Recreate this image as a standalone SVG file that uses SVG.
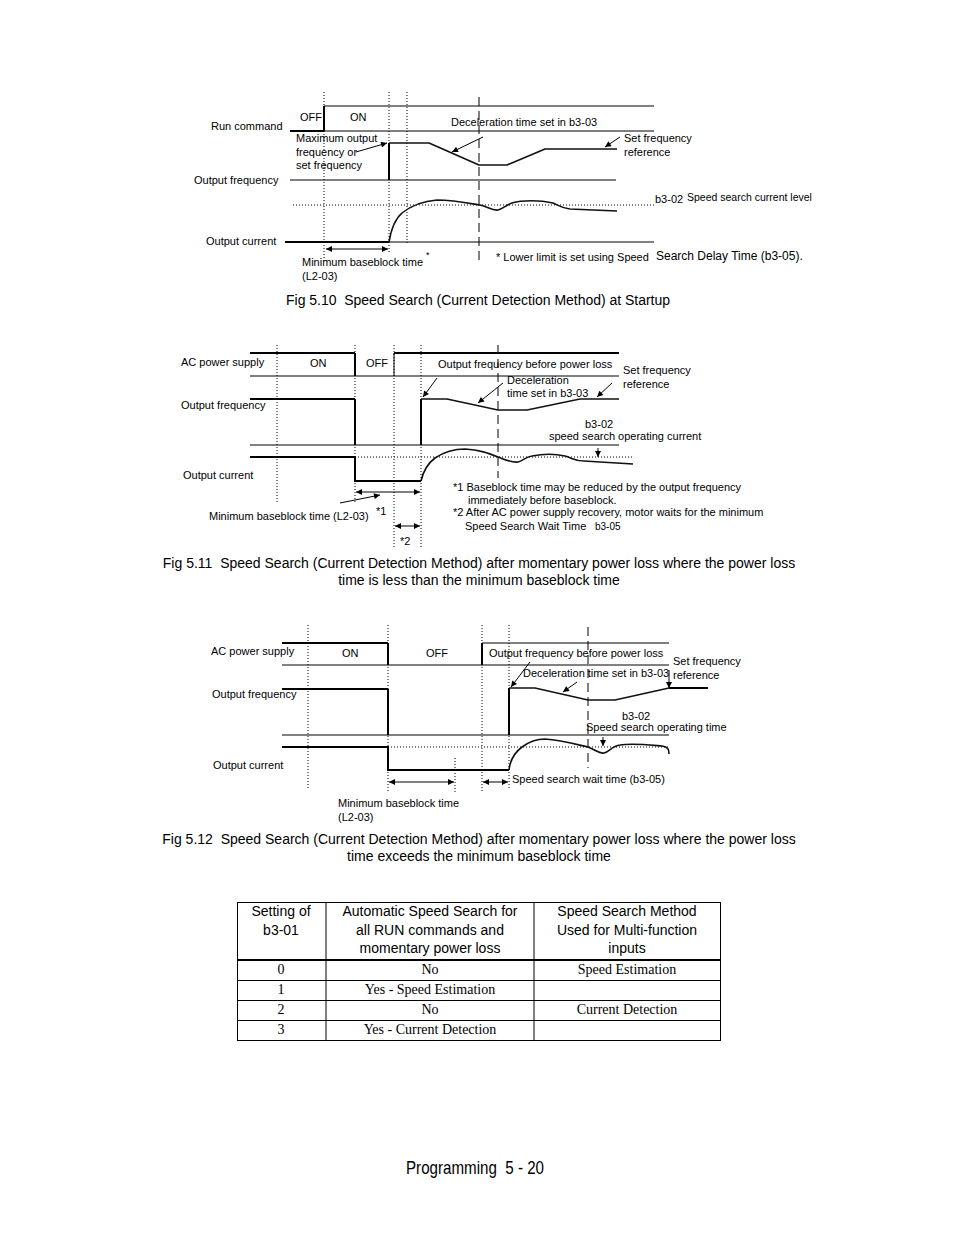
<svg xmlns="http://www.w3.org/2000/svg" width="954" height="1235" viewBox="0 0 954 1235">
<style>
text{font-family:"Liberation Sans",Arial,sans-serif;fill:#000}
.l{font-size:11px}
.s{font-size:10.5px}
.cap{font-size:14px;white-space:pre}
.th{font-size:14px}
.tb{font-size:14px;font-family:"Liberation Serif","Times New Roman",serif}
.thin{stroke:#000;stroke-width:1;fill:none}
.thk{stroke:#000;stroke-width:2;fill:none}
.sig{stroke:#111;stroke-width:1.6;fill:none;stroke-linejoin:round}
.dot{stroke:#000;stroke-width:1;stroke-dasharray:1 2;fill:none}
.dash{stroke:#000;stroke-width:1;stroke-dasharray:9 5;fill:none}
.arr{stroke:#000;stroke-width:1;fill:none;marker-end:url(#ah)}
.darr{stroke:#000;stroke-width:1;fill:none;marker-end:url(#ah);marker-start:url(#ah)}
</style>
<defs>
<marker id="ah" viewBox="0 0 10 10" refX="10" refY="5" markerUnits="userSpaceOnUse" markerWidth="8" markerHeight="6" orient="auto-start-reverse">
<path d="M0,0 L10,5 L0,10 z" fill="#000"/>
</marker>
</defs>
<rect width="954" height="1235" fill="#fff"/>

<!-- Fig 5.10 -->
<g id="fig510">
<g id="fig510-grid">
<line class="dot" x1="324" y1="92" x2="324" y2="262"/>
<line class="dot" x1="389" y1="92" x2="389" y2="253"/>
<line class="dot" x1="407" y1="92" x2="407" y2="245"/>
<line class="dash" x1="479" y1="97" x2="479" y2="263"/>
<line class="dot" x1="293" y1="205" x2="654" y2="205"/>
</g>
<g id="fig510-run">
<line class="thk" x1="290" y1="131" x2="324" y2="131"/>
<line class="thin" x1="324" y1="131" x2="654" y2="131"/>
<line class="thk" x1="324" y1="131" x2="324" y2="106"/>
<line class="thin" x1="324" y1="106" x2="654" y2="106"/>
</g>
<g id="fig510-freq">
<line class="thin" x1="290" y1="180" x2="616" y2="180"/>
<line class="thk" x1="389" y1="180" x2="389" y2="143"/>
<path class="sig" d="M389,143 L429,143 L479,165 L507,165 L545,149 L617,149"/>
</g>
<g id="fig510-cur">
<line class="thk" x1="285" y1="242" x2="389" y2="242"/>
<line class="thin" x1="389" y1="242" x2="654" y2="242"/>
<path class="sig" d="M389,242 C391,230 395,219 402,213 C412,205 424,201 437,200 C452,200 468,203 480,205 C488,207 493,211 498,210 C503,209 506,205 512,203 C522,200 540,200 553,203 C558,205 561,208 570,209 L617,211"/>
</g>
<g id="fig510-arrows">
<line class="darr" x1="326" y1="249" x2="388" y2="249"/>
<line class="arr" x1="356" y1="152" x2="387" y2="143"/>
<line class="arr" x1="483" y1="137" x2="452" y2="152"/>
<line class="arr" x1="620" y1="137" x2="605" y2="147"/>
</g>
<g id="fig510-labels">
<text class="l" x="211" y="130">Run command</text>
<text class="l" x="300" y="121">OFF</text>
<text class="l" x="350" y="121">ON</text>
<text class="l" x="451" y="126">Deceleration time set in b3-03</text>
<text class="l" x="296" y="142">Maximum output</text>
<text class="l" x="296" y="156">frequency or</text>
<text class="l" x="296" y="169">set frequency</text>
<text class="l" x="624" y="142">Set frequency</text>
<text class="l" x="624" y="156">reference</text>
<text class="l" x="194" y="184">Output frequency</text>
<text class="l" x="655" y="203">b3-02</text>
<text class="s" x="687" y="201">Speed search current level</text>
<text class="l" x="206" y="245">Output current</text>
<text class="l" x="302" y="266">Minimum baseblock time</text>
<text class="l" x="302" y="280">(L2-03)</text>
<text style="font-size:9px" x="426" y="258">*</text>
<text class="l" x="496" y="261">* Lower limit is set using Speed</text>
<text style="font-size:12px" x="656" y="260">Search Delay Time (b3-05).</text>
<text class="cap" xml:space="preserve" x="286" y="305" textLength="384">Fig 5.10  Speed Search (Current Detection Method) at Startup</text>
</g>
</g>

<!-- Fig 5.11 -->
<g id="fig511">
<g id="fig511-grid">
<line class="dot" x1="277" y1="345" x2="277" y2="503"/>
<line class="dot" x1="355" y1="345" x2="355" y2="503"/>
<line class="dot" x1="394" y1="345" x2="394" y2="547"/>
<line class="dot" x1="421" y1="345" x2="421" y2="547"/>
<line class="dash" x1="498" y1="345" x2="498" y2="478"/>
<line class="dot" x1="355" y1="457" x2="633" y2="457"/>
</g>
<g id="fig511-ac">
<line class="thk" x1="250" y1="353" x2="355" y2="353"/>
<line class="thk" x1="355" y1="353" x2="355" y2="376"/>
<line class="thin" x1="250" y1="376" x2="619" y2="376"/>
<line class="thin" x1="394" y1="376" x2="394" y2="353"/>
<line class="thk" x1="394" y1="353" x2="619" y2="353"/>
</g>
<g id="fig511-freq">
<line class="thk" x1="250" y1="399" x2="355" y2="399"/>
<line class="thk" x1="355" y1="399" x2="355" y2="445"/>
<line class="thin" x1="250" y1="445" x2="619" y2="445"/>
<line class="thk" x1="421" y1="445" x2="421" y2="399"/>
<path class="sig" d="M421,399 L447,399 L498,410 L527,410 L580,399 L619,399"/>
</g>
<g id="fig511-cur">
<path class="thk" d="M250,457 L355,457 L355,481 L421,481"/>
<path class="sig" d="M421,481 C423,472 427,464 435,458 C444,452 455,449 465,449 C480,450 488,453 498,457 C506,460 512,463 518,462 C523,461 525,457 532,456 C542,454 556,454 565,456 C572,458 575,461 584,461 L633,464"/>
</g>
<g id="fig511-arrows">
<line class="darr" x1="356" y1="492" x2="420" y2="492"/>
<line class="darr" x1="395" y1="526" x2="420" y2="526"/>
<line class="arr" x1="340" y1="503" x2="380" y2="495"/>
<line class="arr" x1="437" y1="378" x2="423" y2="397"/>
<line class="arr" x1="503" y1="383" x2="478" y2="403"/>
<line class="arr" x1="612" y1="383" x2="597" y2="397"/>
<line class="arr" x1="598" y1="448" x2="598" y2="457"/>
</g>
<g id="fig511-labels">
<text class="l" x="181" y="366">AC power supply</text>
<text class="l" x="310" y="367">ON</text>
<text class="l" x="366" y="367">OFF</text>
<text class="l" x="438" y="368">Output frequency before power loss</text>
<text class="l" x="623" y="374">Set frequency</text>
<text class="l" x="623" y="388">reference</text>
<text class="l" x="507" y="384">Deceleration</text>
<text class="l" x="507" y="397">time set in b3-03</text>
<text class="l" x="181" y="409">Output frequency</text>
<text class="l" x="585" y="428">b3-02</text>
<text class="l" x="549" y="440">speed search operating current</text>
<text class="l" x="183" y="479">Output current</text>
<text class="l" x="453" y="491">*1 Baseblock time may be reduced by the output frequency</text>
<text class="l" x="468" y="504">immediately before baseblock.</text>
<text class="l" x="453" y="516">*2 After AC power supply recovery, motor waits for the minimum</text>
<text class="l" x="465" y="530">Speed Search Wait Time</text>
<text style="font-size:10px" x="595" y="530">b3-05</text>
<text class="l" x="209" y="520">Minimum baseblock time (L2-03)</text>
<text class="l" x="376" y="515">*1</text>
<text class="l" x="400" y="545">*2</text>
<text class="cap" xml:space="preserve" x="479" y="568" text-anchor="middle">Fig 5.11  Speed Search (Current Detection Method) after momentary power loss where the power loss</text>
<text class="cap" x="479" y="585" text-anchor="middle">time is less than the minimum baseblock time</text>
</g>
</g>

<!-- Fig 5.12 -->
<g id="fig512">
<g id="fig512-grid">
<line class="dot" x1="308" y1="625" x2="308" y2="790"/>
<line class="dot" x1="388" y1="625" x2="388" y2="792"/>
<line class="dot" x1="455" y1="758" x2="455" y2="792"/>
<line class="dot" x1="482" y1="625" x2="482" y2="793"/>
<line class="dot" x1="509" y1="625" x2="509" y2="790"/>
<line class="dash" x1="588" y1="627" x2="588" y2="768"/>
<line class="dot" x1="388" y1="747" x2="669" y2="747"/>
</g>
<g id="fig512-ac">
<line class="thk" x1="282" y1="643" x2="388" y2="643"/>
<line class="thk" x1="388" y1="643" x2="388" y2="665"/>
<line class="thin" x1="282" y1="665" x2="669" y2="665"/>
<line class="thk" x1="482" y1="665" x2="482" y2="643"/>
<line class="thin" x1="482" y1="643" x2="669" y2="643"/>
</g>
<g id="fig512-freq">
<line class="thk" x1="282" y1="689" x2="388" y2="689"/>
<line class="thk" x1="388" y1="689" x2="388" y2="735"/>
<line class="thin" x1="282" y1="735" x2="669" y2="735"/>
<line class="thk" x1="509" y1="735" x2="509" y2="688"/>
<path class="sig" d="M509,688 L535,688 L588,700 L615,700 L669,688"/>
<line class="thk" x1="669" y1="688" x2="708" y2="688"/>
</g>
<g id="fig512-cur">
<path class="thk" d="M282,747 L388,747 L388,770 L509,770"/>
<path class="sig" d="M509,770 C510,761 514,753 522,747 C530,741 537,739 545,739 C560,740 575,744 588,747 C596,750 599,754 604,753 C609,752 612,746 620,745 C632,743 650,745 662,746 C668,747 669,749 669,754"/>
</g>
<g id="fig512-arrows">
<line class="darr" x1="389" y1="782" x2="454" y2="782"/>
<line class="darr" x1="483" y1="782" x2="508" y2="782"/>
<line class="arr" x1="530" y1="662" x2="511" y2="687"/>
<line class="arr" x1="577" y1="682" x2="563" y2="692"/>
<line class="arr" x1="669" y1="670" x2="669" y2="688"/>
<line class="arr" x1="603" y1="737" x2="603" y2="746"/>
</g>
<g id="fig512-labels">
<text class="l" x="211" y="655">AC power supply</text>
<text class="l" x="342" y="657">ON</text>
<text class="l" x="426" y="657">OFF</text>
<text class="l" x="489" y="657">Output frequency before power loss</text>
<text class="l" x="673" y="665">Set frequency</text>
<text class="l" x="673" y="679">reference</text>
<text class="l" x="523" y="677">Deceleration time set in b3-03</text>
<text class="l" x="212" y="698">Output frequency</text>
<text class="l" x="622" y="720">b3-02</text>
<text class="l" x="586" y="731">Speed search operating time</text>
<text class="l" x="213" y="769">Output current</text>
<text class="l" x="512" y="783">Speed search wait time (b3-05)</text>
<text class="l" x="338" y="807">Minimum baseblock time</text>
<text class="l" x="338" y="821">(L2-03)</text>
<text class="cap" xml:space="preserve" x="479" y="844" text-anchor="middle">Fig 5.12  Speed Search (Current Detection Method) after momentary power loss where the power loss</text>
<text class="cap" x="479" y="861" text-anchor="middle">time exceeds the minimum baseblock time</text>
</g>
</g>

<!-- Table -->
<g id="table">
<rect class="thin" x="237.5" y="902.5" width="483" height="138"/>
<line class="thin" x1="326" y1="902" x2="326" y2="1041"/>
<line class="thin" x1="534" y1="902" x2="534" y2="1041"/>
<line class="thk" x1="237" y1="960" x2="721" y2="960"/>
<line class="thin" x1="237" y1="980.5" x2="721" y2="980.5"/>
<line class="thin" x1="237" y1="1000.5" x2="721" y2="1000.5"/>
<line class="thin" x1="237" y1="1020.5" x2="721" y2="1020.5"/>
<g text-anchor="middle">
<text class="th" x="281" y="916">Setting of</text>
<text class="th" x="281" y="935">b3-01</text>
<text class="th" x="430" y="916">Automatic Speed Search for</text>
<text class="th" x="430" y="935">all RUN commands and</text>
<text class="th" x="430" y="953">momentary power loss</text>
<text class="th" x="627" y="916">Speed Search Method</text>
<text class="th" x="627" y="935">Used for Multi-function</text>
<text class="th" x="627" y="953">inputs</text>
<text class="tb" x="281" y="974">0</text>
<text class="tb" x="430" y="974">No</text>
<text class="tb" x="627" y="974">Speed Estimation</text>
<text class="tb" x="281" y="994">1</text>
<text class="tb" x="430" y="994">Yes - Speed Estimation</text>
<text class="tb" x="281" y="1014">2</text>
<text class="tb" x="430" y="1014">No</text>
<text class="tb" x="627" y="1014">Current Detection</text>
<text class="tb" x="281" y="1034">3</text>
<text class="tb" x="430" y="1034">Yes - Current Detection</text>
</g>
</g>

<g id="footer">
<text xml:space="preserve" x="406" y="1174" style="font-size:19px;white-space:pre;font-family:'Liberation Sans Narrow','Liberation Sans',Arial,sans-serif" textLength="138" lengthAdjust="spacingAndGlyphs">Programming  5 - 20</text>
</g>
</svg>
